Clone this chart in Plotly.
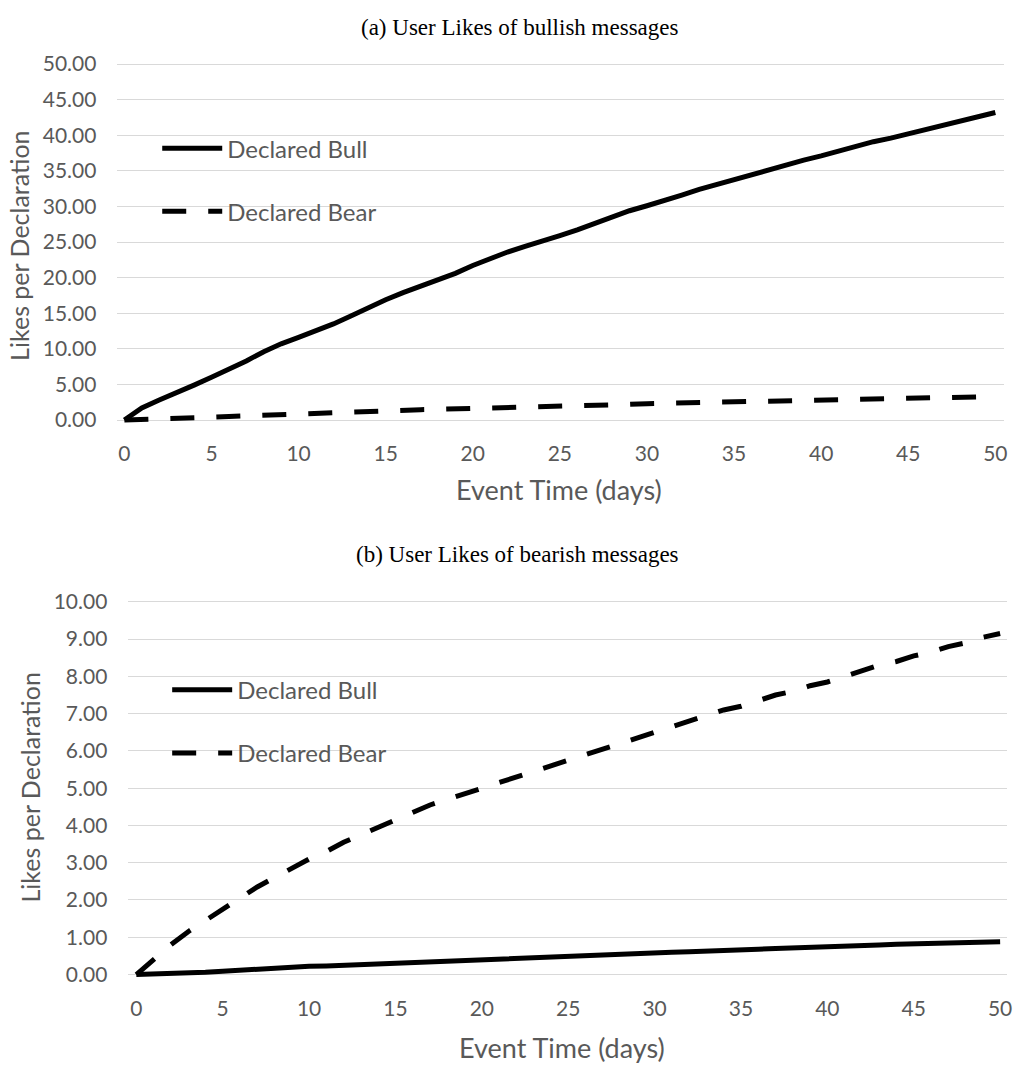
import plotly.graph_objects as go

W, H = 1019, 1071

days = list(range(0, 51))

bull_likes_a = [0, 1.7, 2.8, 3.8, 4.9, 6.0, 7.1, 8.3, 9.6, 10.7,
                11.6, 12.5, 13.5, 14.6, 15.8, 16.9, 17.9, 18.8, 19.7, 20.6,
                21.7, 22.7, 23.6, 24.4, 25.1, 25.9, 26.7, 27.6, 28.6, 29.4,
                30.1, 30.8, 31.6, 32.4, 33.1, 33.8, 34.5, 35.2, 35.9, 36.5,
                37.1, 37.8, 38.5, 39.1, 39.6, 40.2, 40.8, 41.4, 42.0, 42.6,
                43.2]
bear_likes_a = [0, 0.05, 0.1, 0.2, 0.3, 0.4, 0.5, 0.6, 0.7, 0.8,
                0.9, 1.0, 1.05, 1.1, 1.2, 1.3, 1.4, 1.45, 1.5, 1.55,
                1.6, 1.7, 1.8, 1.85, 1.9, 2.0, 2.05, 2.1, 2.15, 2.2,
                2.3, 2.35, 2.4, 2.45, 2.5, 2.6, 2.65, 2.7, 2.72, 2.76,
                2.8, 2.85, 2.9, 2.95, 3.0, 3.05, 3.1, 3.15, 3.2, 3.25,
                3.3]
bull_likes_b = [0, 0.01, 0.02, 0.03, 0.06, 0.09, 0.12, 0.15, 0.18, 0.2,
                0.22, 0.23, 0.25, 0.27, 0.29, 0.31, 0.33, 0.35, 0.36, 0.38,
                0.4, 0.42, 0.44, 0.45, 0.46, 0.48, 0.5, 0.52, 0.54, 0.56,
                0.58, 0.6, 0.61, 0.62, 0.64, 0.66, 0.68, 0.7, 0.71, 0.73,
                0.75, 0.76, 0.78, 0.79, 0.81, 0.82, 0.83, 0.85, 0.86, 0.87,
                0.88]
bear_likes_b = [0, 0.4, 0.8, 1.15, 1.45, 1.75, 2.05, 2.35, 2.6, 2.85,
                3.1, 3.3, 3.55, 3.75, 3.95, 4.15, 4.35, 4.55, 4.7, 4.85,
                5.0, 5.15, 5.3, 5.45, 5.6, 5.75, 5.9, 6.05, 6.2, 6.35,
                6.5, 6.65, 6.8, 6.95, 7.1, 7.2, 7.35, 7.5, 7.6, 7.75,
                7.85, 8.0, 8.15, 8.3, 8.4, 8.55, 8.65, 8.8, 8.9, 9.05,
                9.15]

x_ticks = list(range(0, 51, 5))
y_ticks_a = list(range(0, 51, 5))
y_ticks_b = list(range(0, 11, 1))

series_names = ["Declared Bull", "Declared Bear"]
title_a = "(a) User Likes of bullish messages"
title_b = "(b) User Likes of bearish messages"
x_title = "Event Time (days)"
y_title = "Likes per Declaration"

GRAY = "#595959"
GRID = "#d9d9d9"
SANS = "Lato"
SERIF = "Liberation Serif"
DASH = "24px,22px"
LW = 5


def px_x(p):
    return p / W


def px_y(p):
    return 1 - p / H


fig = go.Figure()

fig.add_trace(go.Scatter(x=days, y=bull_likes_a, name=series_names[0], mode="lines",
                         line=dict(color="black", width=LW), xaxis="x", yaxis="y",
                         legend="legend", legendgroup="a1"))
fig.add_trace(go.Scatter(x=days, y=bear_likes_a, name=series_names[1], mode="lines",
                         line=dict(color="black", width=LW, dash=DASH), xaxis="x", yaxis="y",
                         legend="legend", legendgroup="a2"))
fig.add_trace(go.Scatter(x=days, y=bull_likes_b, name=series_names[0], mode="lines",
                         line=dict(color="black", width=LW), xaxis="x2", yaxis="y2",
                         legend="legend2", legendgroup="b1"))
fig.add_trace(go.Scatter(x=days, y=bear_likes_b, name=series_names[1], mode="lines",
                         line=dict(color="black", width=LW, dash=DASH), xaxis="x2", yaxis="y2",
                         legend="legend2", legendgroup="b2"))

tickfont = dict(family=SANS, size=21, color=GRAY)

xcommon = dict(tickvals=x_ticks, showgrid=False, zeroline=False, showline=False,
               ticks="", tickfont=tickfont, ticklabelstandoff=15, fixedrange=True)
ycommon = dict(showgrid=True, gridcolor=GRID, gridwidth=1.3, zeroline=False,
               showline=False, ticks="", tickfont=tickfont, tickformat=".2f",
               ticklabelstandoff=20, fixedrange=True)

# top panel: day 0 at px 125, day 50 at px 1000; value 0 at px 416, 50 at px 54
fig.update_layout(
    xaxis=dict(domain=[px_x(118), px_x(1009)], range=[-0.4, 50.5], anchor="y", **xcommon),
    yaxis=dict(domain=[px_y(420.34), px_y(51.83)], range=[-0.6, 50.3], anchor="x",
               tickvals=y_ticks_a, **ycommon),
    xaxis2=dict(domain=[px_x(129), px_x(1012)], range=[-0.46, 50.4], anchor="y2", **xcommon),
    yaxis2=dict(domain=[px_y(984.55), px_y(598.7)], range=[-0.12, 10.06], anchor="x2",
                tickvals=y_ticks_b, **ycommon),
)

legend_common = dict(bgcolor="rgba(0,0,0,0)", borderwidth=0, xanchor="left", yanchor="top",
                     font=dict(family=SANS, size=24, color=GRAY), tracegroupgap=29,
                     itemwidth=60, traceorder="grouped")
fig.update_layout(
    legend=dict(x=px_x(158), y=px_y(117), **legend_common),
    legend2=dict(x=px_x(168), y=px_y(668), **legend_common),
    showlegend=True,
)

annotations = [
    dict(text=title_a, x=px_x(523), y=px_y(17), font=dict(family=SERIF, size=23, color="black")),
    dict(text=title_b, x=px_x(520), y=px_y(553), font=dict(family=SERIF, size=23, color="black")),
    dict(text=x_title, x=px_x(562), y=px_y(487), font=dict(family=SANS, size=27, color=GRAY)),
    dict(text=x_title, x=px_x(565), y=px_y(1054), font=dict(family=SANS, size=27, color=GRAY)),
    dict(text=y_title, x=px_x(19), y=px_y(239), textangle=-90, font=dict(family=SANS, size=25, color=GRAY)),
    dict(text=y_title, x=px_x(30), y=px_y(790), textangle=-90, font=dict(family=SANS, size=25, color=GRAY)),
]
for a in annotations:
    a.update(xref="paper", yref="paper", showarrow=False, xanchor="center", yanchor="middle")

fig.update_layout(
    annotations=annotations,
    width=W, height=H,
    margin=dict(l=0, r=0, t=0, b=0, pad=0),
    paper_bgcolor="white", plot_bgcolor="white",
    font=dict(family=SANS, color=GRAY),
)

fig.write_html("out.html", config={"displayModeBar": False})
